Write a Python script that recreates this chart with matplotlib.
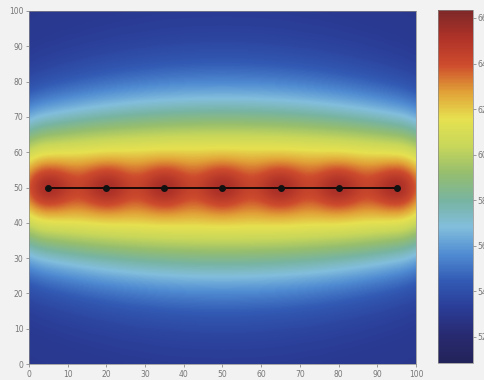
import numpy as np
import matplotlib
matplotlib.use("Agg")
import matplotlib.pyplot as plt
from matplotlib.colors import LinearSegmentedColormap

# Node positions (sensor line)
node_x = [5, 20, 35, 50, 65, 80, 95]
node_y = [50, 50, 50, 50, 50, 50, 50]

# Field model parameters
base_level = 53.0
broad_amp = 10.3
broad_sigma = 18.0
edge_taper = 0.22
narrow_amp = 2.0
narrow_sigma = 4.5
cmin, cmax = 50.85, 66.35

x_ticks = [0, 10, 20, 30, 40, 50, 60, 70, 80, 90, 100]
y_ticks = [0, 10, 20, 30, 40, 50, 60, 70, 80, 90, 100]
cbar_ticks = [52, 54, 56, 58, 60, 62, 64, 66]

# grid of the field
gx = np.linspace(0, 100, 401)
gy = np.linspace(0, 100, 401)
X, Y = np.meshgrid(gx, gy)

# broad term: distance to the segment spanned by the nodes, narrowing at the ends
x0, x1 = min(node_x), max(node_x)
cx = 0.5 * (x0 + x1)
half = 0.5 * (x1 - x0)
ly = np.mean(node_y)
dxs = np.where(X < x0, x0 - X, np.where(X > x1, X - x1, 0.0))
sig = broad_sigma * (1 - edge_taper * np.clip(((X - cx) / (half + 5)) ** 2, 0, 1))
dseg2 = dxs ** 2 + (Y - ly) ** 2
Z = base_level + broad_amp * np.exp(-dseg2 / (2 * sig ** 2))
for nx, ny in zip(node_x, node_y):
    d2 = (X - nx) ** 2 + (Y - ny) ** 2
    Z += narrow_amp * np.exp(-d2 / (2 * narrow_sigma ** 2))

cols = [
    (35, 35, 90), (40, 42, 112), (42, 60, 150), (50, 90, 180), (80, 140, 210),
    (130, 190, 220), (120, 180, 160), (150, 190, 110), (200, 215, 90),
    (230, 225, 80), (225, 160, 55), (205, 75, 45), (175, 50, 40), (125, 40, 40)
]
cmap = LinearSegmentedColormap.from_list(
    "mjet", [tuple(c / 255 for c in col) for col in cols])

fig = plt.figure(figsize=(4.84, 3.8), dpi=100, facecolor="#f2f2f2")
ax = fig.add_axes([29 / 484, 1 - 364 / 380, (416 - 29) / 484, (364 - 11) / 380])
im = ax.imshow(Z, extent=[0, 100, 0, 100], origin="lower", cmap=cmap,
               vmin=cmin, vmax=cmax, interpolation="bilinear", aspect="auto")
ax.plot(node_x, node_y, color="black", lw=1.2, marker="o", ms=4,
        markerfacecolor="#111111", markeredgecolor="#111111")
ax.set_xlim(0, 100)
ax.set_ylim(0, 100)
ax.set_xticks(x_ticks)
ax.set_yticks(y_ticks)
ax.tick_params(labelsize=5.5, colors="#777777", length=2, width=0.5, pad=2)
for s in ax.spines.values():
    s.set_color("#888888")
    s.set_linewidth(0.5)

cax = fig.add_axes([438 / 484, 1 - 363 / 380, 35 / 484, (363 - 10) / 380])
cb = fig.colorbar(im, cax=cax)
cb.set_ticks(cbar_ticks)
cb.ax.tick_params(labelsize=5.5, colors="#777777", length=2, width=0.5, pad=1)
cb.outline.set_edgecolor("#888888")
cb.outline.set_linewidth(0.5)

fig.savefig("out.png", dpi=100, facecolor=fig.get_facecolor())
